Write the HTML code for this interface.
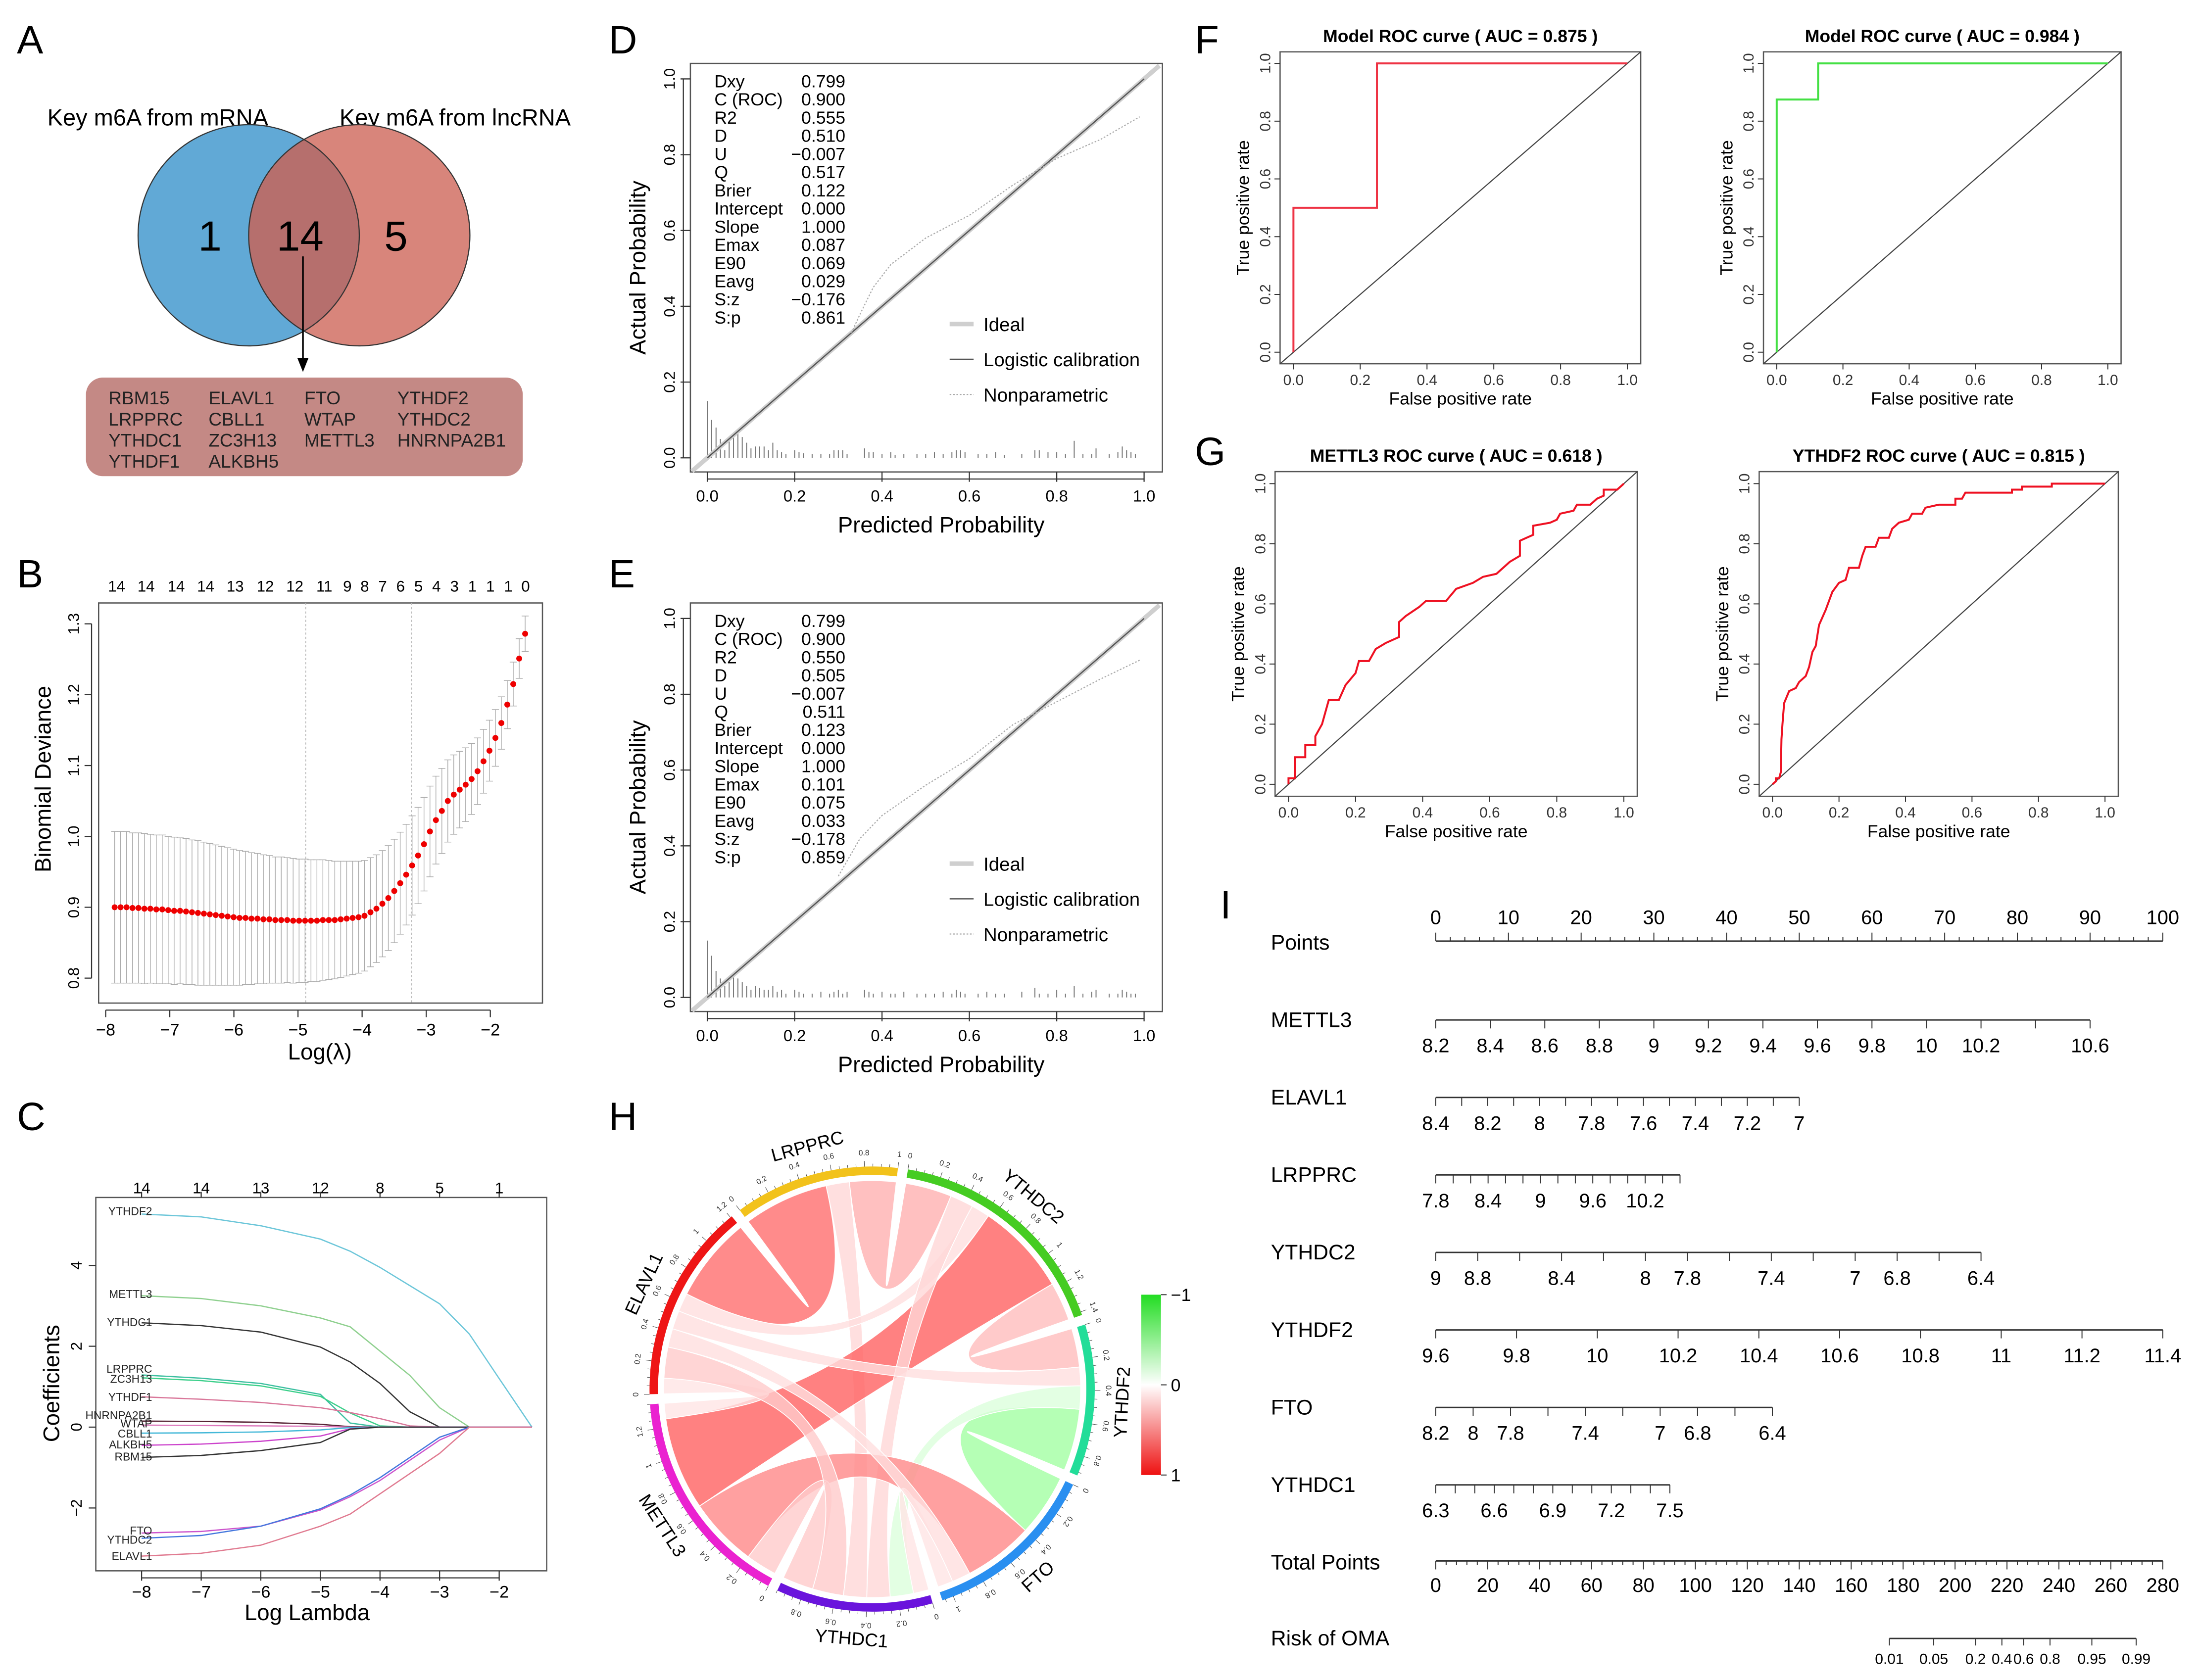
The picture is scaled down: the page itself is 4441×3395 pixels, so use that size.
<!DOCTYPE html>
<html><head><meta charset="utf-8"><style>
html,body{margin:0;padding:0;background:#fff;}
svg{display:block;font-family:"Liberation Sans",Arial,sans-serif;}
</style></head><body>
<svg id="fig" xmlns="http://www.w3.org/2000/svg" width="4441" height="3395" viewBox="0 0 1560 1192.5" preserveAspectRatio="none">
<rect x="0" y="0" width="1560" height="1192.5" fill="#fff"/>
<g font-size="28" fill="#000">
<text x="12" y="38">A</text>
<text x="12" y="417">B</text>
<text x="12" y="802">C</text>
<text x="432" y="38">D</text>
<text x="432" y="417">E</text>
<text x="432" y="802">H</text>
<text x="848" y="38">F</text>
<text x="848" y="330">G</text>
<text x="866" y="652">I</text>
</g>
<!-- Panel A Venn -->
<g>
<defs><clipPath id="blueClip"><circle cx="176.5" cy="167" r="78.5"/></clipPath></defs>
<text x="112" y="89" font-size="16.5" text-anchor="middle">Key m6A from mRNA</text>
<text x="323" y="89" font-size="16.5" text-anchor="middle">Key m6A from lncRNA</text>
<circle cx="176.5" cy="167" r="78.5" fill="#61a9d6"/>
<circle cx="255" cy="167" r="78.5" fill="#d8857b"/>
<circle cx="255" cy="167" r="78.5" fill="#b66f6d" clip-path="url(#blueClip)"/>
<circle cx="176.5" cy="167" r="78.5" fill="none" stroke="#333" stroke-width="0.8"/>
<circle cx="255" cy="167" r="78.5" fill="none" stroke="#333" stroke-width="0.8"/>
<text x="149" y="178" font-size="30" text-anchor="middle">1</text>
<text x="213" y="178" font-size="30" text-anchor="middle">14</text>
<text x="281" y="178" font-size="30" text-anchor="middle">5</text>
<line x1="215" y1="182" x2="215" y2="258" stroke="#000" stroke-width="1.2"/>
<path d="M211,254 L215,264 L219,254 Z" fill="#000"/>
<rect x="61" y="268" width="310" height="70" rx="12" fill="#c48985"/>
<g font-size="13" fill="#222">
<text x="77" y="287">RBM15</text>
<text x="77" y="302">LRPPRC</text>
<text x="77" y="317">YTHDC1</text>
<text x="77" y="332">YTHDF1</text>
<text x="148" y="287">ELAVL1</text>
<text x="148" y="302">CBLL1</text>
<text x="148" y="317">ZC3H13</text>
<text x="148" y="332">ALKBH5</text>
<text x="216" y="287">FTO</text>
<text x="216" y="302">WTAP</text>
<text x="216" y="317">METTL3</text>
<text x="282" y="287">YTHDF2</text>
<text x="282" y="302">YTHDC2</text>
<text x="282" y="317">HNRNPA2B1</text>
</g>
</g>
<g id="gB"></g>
<g id="gC"></g>
<g id="gD"></g>
<g id="gE"></g>
<g id="gF"></g>
<g id="gG"></g>
<g id="gH"></g>
<g id="gI"></g>
</svg>
<script>
// ---------- DATA ----------
// Panel B
const bLamStart = -7.86;
const bLamStep = 0.0928;
const bMean = [0.900,0.900,0.900,0.899,0.899,0.898,0.898,0.897,0.897,0.896,
0.895,0.895,0.894,0.893,0.892,0.891,0.890,0.889,0.888,0.887,
0.886,0.885,0.885,0.884,0.884,0.883,0.883,0.882,0.882,0.882,
0.881,0.881,0.881,0.881,0.881,0.882,0.882,0.882,0.883,0.884,
0.885,0.886,0.888,0.893,0.898,0.905,0.913,0.923,0.934,0.946,
0.959,0.973,0.989,1.007,1.023,1.036,1.050,1.059,1.066,1.073,
1.081,1.092,1.106,1.121,1.139,1.160,1.186,1.215,1.251,1.286];
const bSE = [0.107,0.107,0.107,0.106,0.106,0.106,0.105,0.105,0.105,0.104,
0.104,0.103,0.103,0.102,0.102,0.101,0.100,0.099,0.098,0.097,
0.096,0.095,0.094,0.093,0.092,0.091,0.090,0.089,0.089,0.088,
0.088,0.087,0.087,0.086,0.086,0.085,0.084,0.083,0.082,0.081,
0.080,0.079,0.078,0.077,0.076,0.075,0.074,0.073,0.072,0.071,
0.070,0.068,0.066,0.064,0.062,0.060,0.058,0.056,0.054,0.052,
0.050,0.047,0.045,0.043,0.040,0.037,0.034,0.031,0.028,0.025];
const bTopLam = [-7.83,-7.37,-6.90,-6.44,-5.98,-5.51,-5.05,-4.59,-4.23,-3.96,-3.68,-3.40,-3.12,-2.84,-2.56,-2.28,-2.00,-1.72,-1.45];
const bTopCount = ["14","14","14","14","13","12","12","11","9","8","7","6","5","4","3","1","1","1","0"];
const bVLines = [-4.88,-3.23];
const bXTicks = [-8,-7,-6,-5,-4,-3,-2];
const bYTicks = [0.8,0.9,1.0,1.1,1.2,1.3];
const bYTickLabels = ["0.8","0.9","1.0","1.1","1.2","1.3"];

// Panel C
const cLams = [-8,-7,-6,-5,-4.5,-4,-3.5,-3,-2.5,-2,-1.45];
const cGenes = ["YTHDF2","METTL3","YTHDC1","LRPPRC","ZC3H13","YTHDF1","HNRNPA2B1","WTAP","CBLL1","ALKBH5","RBM15","FTO","YTHDC2","ELAVL1"];
const cColors = ["#6cc6d9","#8fd08f","#333333","#3cbfa0","#3ccf8a","#d9779a","#552233","#dd77bb","#44b8d8","#cc44cc","#333333","#cc55cc","#4477dd","#e07a90"];
const cCoef = [
 [5.27,5.20,4.98,4.65,4.35,3.95,3.50,3.05,2.30,1.20,0],
 [3.25,3.18,3.00,2.70,2.48,1.88,1.28,0.48,0,0,0],
 [2.58,2.51,2.35,1.98,1.61,1.08,0.38,0,0,0,0],
 [1.29,1.21,1.08,0.81,0.10,0,0,0,0,0,0],
 [1.22,1.15,1.02,0.76,0.35,0.03,0,0,0,0,0],
 [0.75,0.69,0.61,0.48,0.36,0.21,0.03,0,0,0,0],
 [0.15,0.14,0.12,0.07,0.01,0,0,0,0,0,0],
 [0.05,0.04,0.03,0.02,0,0,0,0,0,0,0],
 [-0.15,-0.14,-0.12,-0.07,-0.01,0,0,0,0,0,0],
 [-0.45,-0.42,-0.35,-0.22,-0.04,0,0,0,0,0,0],
 [-0.75,-0.70,-0.58,-0.38,-0.05,0,0,0,0,0,0],
 [-2.62,-2.58,-2.45,-2.05,-1.72,-1.32,-0.82,-0.32,0,0,0],
 [-2.75,-2.68,-2.45,-2.02,-1.68,-1.25,-0.75,-0.25,0,0,0],
 [-3.19,-3.12,-2.92,-2.45,-2.15,-1.65,-1.15,-0.65,0,0,0]];
const cLabelY = [5.35,3.3,2.6,1.45,1.2,0.75,0.3,0.1,-0.15,-0.42,-0.72,-2.55,-2.78,-3.18];
const cXTicks = [-8,-7,-6,-5,-4,-3,-2];
const cYTicks = [-2,0,2,4];
const cTopLam = [-8,-7,-6,-5,-4,-3,-2];
const cTopCount = ["14","14","13","12","8","5","1"];

// Panels D / E
const dStatNames = ["Dxy","C (ROC)","R2","D","U","Q","Brier","Intercept","Slope","Emax","E90","Eavg","S:z","S:p"];
const dStatValues = ["0.799","0.900","0.555","0.510","\u22120.007","0.517","0.122","0.000","1.000","0.087","0.069","0.029","\u22120.176","0.861"];
const eStatValues = ["0.799","0.900","0.550","0.505","\u22120.007","0.511","0.123","0.000","1.000","0.101","0.075","0.033","\u22120.178","0.859"];
const dHistX = [0.00,0.01,0.02,0.03,0.04,0.05,0.06,0.07,0.08,0.09,0.10,0.11,0.12,0.13,0.14,0.15,0.16,0.17,0.18,0.20,0.21,0.22,0.24,0.26,0.28,0.29,0.30,0.31,0.32,0.36,0.37,0.38,0.40,0.42,0.43,0.45,0.48,0.50,0.52,0.54,0.56,0.57,0.58,0.59,0.62,0.64,0.66,0.68,0.72,0.75,0.76,0.78,0.80,0.82,0.84,0.86,0.88,0.89,0.92,0.94,0.95,0.96,0.97,0.98];
const dHistH = [0.15,0.10,0.08,0.05,0.02,0.05,0.06,0.07,0.055,0.04,0.025,0.03,0.03,0.03,0.02,0.04,0.02,0.015,0.01,0.02,0.015,0.012,0.01,0.01,0.01,0.02,0.02,0.02,0.01,0.025,0.015,0.015,0.01,0.015,0.008,0.01,0.01,0.01,0.015,0.01,0.015,0.02,0.02,0.015,0.01,0.01,0.015,0.008,0.01,0.02,0.02,0.015,0.015,0.01,0.045,0.01,0.01,0.025,0.01,0.015,0.03,0.02,0.015,0.01];
const eHistH = [0.15,0.11,0.07,0.05,0.03,0.04,0.06,0.05,0.04,0.03,0.02,0.03,0.025,0.02,0.02,0.03,0.015,0.02,0.01,0.02,0.015,0.01,0.01,0.015,0.01,0.015,0.02,0.01,0.015,0.02,0.015,0.01,0.015,0.01,0.01,0.015,0.01,0.01,0.01,0.015,0.01,0.02,0.015,0.01,0.01,0.015,0.01,0.01,0.015,0.025,0.01,0.01,0.02,0.01,0.03,0.01,0.015,0.02,0.01,0.01,0.02,0.015,0.01,0.01];
const dNpX = [0.33,0.35,0.38,0.42,0.50,0.60,0.70,0.80,0.90,0.99];
const dNpY = [0.33,0.38,0.45,0.51,0.58,0.64,0.72,0.79,0.84,0.90];
const eNpX = [0.30,0.35,0.40,0.50,0.60,0.70,0.80,0.90,0.99];
const eNpY = [0.32,0.42,0.48,0.56,0.63,0.72,0.78,0.84,0.89];
const calTicks = [0,0.2,0.4,0.6,0.8,1.0];
const calTickLabels = ["0.0","0.2","0.4","0.6","0.8","1.0"];

// Panels F / G (ROC)
const rocTitles = ["Model ROC curve ( AUC =  0.875 )","Model ROC curve ( AUC =  0.984 )","METTL3 ROC curve ( AUC =  0.618 )","YTHDF2 ROC curve ( AUC =  0.815 )"];
const rocF1x = [0,0,0.25,0.25,1];
const rocF1y = [0,0.5,0.5,1,1];
const rocF2x = [0,0,0.125,0.125,1];
const rocF2y = [0,0.875,0.875,1,1];
const rocG1x = [0,0,0.02,0.02,0.05,0.05,0.08,0.08,0.10,0.12,0.15,0.17,0.20,0.21,0.24,0.26,0.29,0.33,0.33,0.35,0.39,0.41,0.47,0.50,0.55,0.58,0.62,0.64,0.66,0.69,0.69,0.71,0.73,0.73,0.78,0.80,0.81,0.85,0.86,0.90,0.92,0.94,0.94,0.98,1];
const rocG1y = [0,0.02,0.02,0.09,0.09,0.13,0.13,0.16,0.20,0.28,0.28,0.33,0.37,0.41,0.41,0.45,0.47,0.49,0.54,0.56,0.59,0.61,0.61,0.65,0.67,0.69,0.70,0.72,0.74,0.76,0.81,0.82,0.83,0.86,0.87,0.88,0.90,0.91,0.93,0.93,0.95,0.96,0.98,0.98,1];
const rocG2x = [0,0.01,0.01,0.02,0.025,0.027,0.03,0.035,0.05,0.07,0.08,0.10,0.11,0.12,0.13,0.14,0.16,0.18,0.20,0.22,0.23,0.26,0.27,0.28,0.31,0.32,0.35,0.36,0.38,0.41,0.42,0.45,0.46,0.50,0.55,0.55,0.57,0.58,0.72,0.72,0.75,0.75,0.84,0.84,1];
const rocG2y = [0,0.01,0.02,0.02,0.04,0.15,0.20,0.27,0.31,0.32,0.34,0.36,0.39,0.44,0.46,0.53,0.58,0.64,0.67,0.68,0.72,0.72,0.76,0.79,0.79,0.82,0.82,0.85,0.87,0.88,0.90,0.90,0.92,0.93,0.93,0.95,0.95,0.97,0.97,0.98,0.98,0.99,0.99,1,1];
const rocTicks = [0,0.2,0.4,0.6,0.8,1.0];
const rocTickLabels = ["0.0","0.2","0.4","0.6","0.8","1.0"];

// Panel H (chord)
const hSegNames = ["LRPPRC","YTHDC2","YTHDF2","FTO","YTHDC1","METTL3","ELAVL1"];
const hSegColors = ["#f2c21b","#45cc22","#22dd99","#2a8ff0","#6a14dc","#ea22d0","#ee1515"];
const hChordA = ["ELAVL1","LRPPRC","LRPPRC","ELAVL1","YTHDC2","YTHDC2","YTHDC2","YTHDF2","YTHDF2","YTHDF2","FTO","FTO","METTL3","ELAVL1","METTL3","YTHDC1"];
const hChordB = ["LRPPRC","YTHDC2","YTHDC1","YTHDC2","METTL3","YTHDC1","YTHDF2","ELAVL1","FTO","YTHDC1","METTL3","YTHDC1","ELAVL1","FTO","YTHDC1","ELAVL1"];
const hChordCorr = [0.55,0.30,0.15,0.12,0.60,0.15,0.25,0.12,-0.40,-0.15,0.45,0.10,0.10,0.12,0.20,0.20];
const hSegOrder = [[0,2,1],[1,5,3,4,6],[6,7,9,8],[8,10,13,11],[11,9,5,2,15,14],[14,10,4,12],[12,15,13,7,3,0]];

// Panel I (nomogram)
const nomVars = ["METTL3","ELAVL1","LRPPRC","YTHDC2","YTHDF2","FTO","YTHDC1"];
const nomV0 = [8.2,8.4,7.8,9.0,9.6,8.2,6.3];
const nomV1 = [10.6,7.0,10.6,6.4,11.4,6.4,7.5];
const nomP1 = [90,50,33.6,75,100,46.3,32.2];
const nomStep = [0.2,0.1,0.2,0.2,0.2,0.2,0.1];
const nomLabels = [["8.2","8.4","8.6","8.8","9","9.2","9.4","9.6","9.8","10","10.2","10.6"],
 ["8.4","8.2","8","7.8","7.6","7.4","7.2","7"],
 ["7.8","8.4","9","9.6","10.2"],
 ["9","8.8","8.4","8","7.8","7.4","7","6.8","6.4"],
 ["9.6","9.8","10","10.2","10.4","10.6","10.8","11","11.2","11.4"],
 ["8.2","8","7.8","7.4","7","6.8","6.4"],
 ["6.3","6.6","6.9","7.2","7.5"]];
const totalMax = 280;
const totalLabels = [0,20,40,60,80,100,120,140,160,180,200,220,240,260,280];
const riskTicks = [0.01,0.05,0.2,0.4,0.6,0.8,0.95,0.99];
const riskLabels = ["0.01","0.05","0.2","0.4","0.6","0.8","0.95","0.99"];
const riskIntercept = -21.49;
const riskSlope = 0.0967;

// ---------- HELPERS ----------
const NS = "http://www.w3.org/2000/svg";
function mk(parent, tag, attrs, name) {
  const el = document.createElementNS(NS, tag);
  for (const k in attrs) el.setAttribute(k, attrs[k]);
  
  
  parent.appendChild(el);
  return el;
}
function tx(parent, x, y, s, attrs, name) {
  const a = Object.assign({x: x, y: y}, attrs || {});
  const el = mk(parent, "text", a, name);
  el.textContent = s;
  return el;
}
function vtext(parent, x, y, s, size, name, extra) {
  const a = Object.assign({"font-size": size, "text-anchor": "middle", transform: "rotate(-90 " + x + " " + y + ")"}, extra || {});
  return tx(parent, x, y, s, a, name);
}
function pathFrom(xs, ys) { return xs.map((v, i) => (i ? "L" : "M") + v.toFixed(2) + "," + ys[i].toFixed(2)).join(" "); }

// ---------- PANEL B ----------
(function(){
  const g = document.getElementById("gB");
  const X = l => 75 + (l + 8) * 45.5;
  const Y = v => 644 - (v - 0.9) * 503;
  mk(g, "rect", {x: 70, y: 428, width: 315, height: 284, fill: "none", stroke: "#555", "stroke-width": 0.9}, "plot-frame");
  bVLines.forEach(l => mk(g, "line", {x1: X(l), y1: 428, x2: X(l), y2: 712, stroke: "#bbb", "stroke-width": 0.6, "stroke-dasharray": "1.5,1.5"}, "lambda-reference-line"));
  bMean.forEach((m, i) => {
    const x = X(bLamStart + i * bLamStep);
    const up = Y(m + bSE[i]), lo = Y(m - bSE[i]);
    mk(g, "line", {x1: x, y1: up, x2: x, y2: lo, stroke: "#aaa", "stroke-width": 0.5}, "error-bar");
    mk(g, "line", {x1: x - 2.5, y1: up, x2: x + 2.5, y2: up, stroke: "#aaa", "stroke-width": 0.5}, "error-cap-upper");
    mk(g, "line", {x1: x - 2.5, y1: lo, x2: x + 2.5, y2: lo, stroke: "#aaa", "stroke-width": 0.5}, "error-cap-lower");
  });
  bMean.forEach((m, i) => {
    mk(g, "circle", {cx: X(bLamStart + i * bLamStep), cy: Y(m), r: 2.1, fill: "#ee0000"}, "deviance-point");
  });
  mk(g, "line", {x1: X(-8), y1: 717, x2: X(-2), y2: 717, stroke: "#333", "stroke-width": 0.8}, "x-axis-line");
  bXTicks.forEach(t => {
    mk(g, "line", {x1: X(t), y1: 717, x2: X(t), y2: 722, stroke: "#333", "stroke-width": 0.8}, "x-tick");
    tx(g, X(t), 735, t < 0 ? "\u2212" + (-t) : String(t), {"font-size": 12, "text-anchor": "middle"}, "x-tick-label");
  });
  mk(g, "line", {x1: 65, y1: Y(0.8), x2: 65, y2: Y(1.3), stroke: "#333", "stroke-width": 0.8}, "y-axis-line");
  bYTicks.forEach((t, i) => {
    mk(g, "line", {x1: 60, y1: Y(t), x2: 65, y2: Y(t), stroke: "#333", "stroke-width": 0.8}, "y-tick");
    vtext(g, 56, Y(t), bYTickLabels[i], 11, "y-tick-label");
  });
  bTopLam.forEach((l, i) => tx(g, X(l), 420, bTopCount[i], {"font-size": 11, "text-anchor": "middle"}, "top-count-label"));
  vtext(g, 36, 553, "Binomial Deviance", 16, "y-axis-title");
  tx(g, 227, 752, "Log(\u03bb)", {"font-size": 16, "text-anchor": "middle"}, "x-axis-title");
})();

// ---------- PANEL C ----------
(function(){
  const g = document.getElementById("gC");
  const X = l => 100.5 + (l + 8) * 42.3;
  const Y = c => 1013 - c * 28.7;
  mk(g, "rect", {x: 68, y: 850, width: 320, height: 265, fill: "none", stroke: "#555", "stroke-width": 0.9}, "plot-frame");
  cGenes.forEach((name, gi) => {
    const xs = cLams.map(X), ys = cCoef[gi].map(Y);
    mk(g, "path", {d: pathFrom(xs, ys), fill: "none", stroke: cColors[gi], "stroke-width": 0.9}, "coef-path-" + name.toLowerCase());
    tx(g, 108, Y(cLabelY[gi]) + 3, name, {"font-size": 8, "text-anchor": "end", fill: "#222"}, "coef-label-" + name.toLowerCase());
  });
  mk(g, "line", {x1: X(-8), y1: 1120, x2: X(-2), y2: 1120, stroke: "#333", "stroke-width": 0.8}, "x-axis-line");
  cXTicks.forEach(t => {
    mk(g, "line", {x1: X(t), y1: 1115, x2: X(t), y2: 1122, stroke: "#333", "stroke-width": 0.8}, "x-tick");
    tx(g, X(t), 1134, "\u2212" + (-t), {"font-size": 12, "text-anchor": "middle"}, "x-tick-label");
  });
  cYTicks.forEach(t => {
    mk(g, "line", {x1: 63, y1: Y(t), x2: 68, y2: Y(t), stroke: "#333", "stroke-width": 0.8}, "y-tick");
    vtext(g, 58, Y(t), t < 0 ? "\u2212" + (-t) : String(t), 11, "y-tick-label");
  });
  cTopLam.forEach((l, i) => {
    mk(g, "line", {x1: X(l), y1: 850, x2: X(l), y2: 846, stroke: "#333", "stroke-width": 0.8}, "top-tick");
    tx(g, X(l), 847, cTopCount[i], {"font-size": 11, "text-anchor": "middle"}, "top-count-label");
  });
  vtext(g, 42, 982, "Coefficients", 16, "y-axis-title");
  tx(g, 218, 1150, "Log Lambda", {"font-size": 16, "text-anchor": "middle"}, "x-axis-title");
})();

// ---------- PANELS D / E ----------
function drawCal(g, dy, vals, hx, hh, npx, npy) {
  const X = p => 502 + p * 310;
  const Y = p => 325 + dy - p * 269;
  mk(g, "rect", {x: 490, y: 45 + dy, width: 335, height: 290, fill: "none", stroke: "#555", "stroke-width": 0.9}, "plot-frame");
  hx.forEach((p, i) => mk(g, "line", {x1: X(p), y1: Y(0), x2: X(p), y2: Y(hh[i]), stroke: "#777", "stroke-width": 0.7}, "histogram-bar"));
  mk(g, "line", {x1: X(-0.035), y1: Y(-0.035), x2: X(1.035), y2: Y(1.035), stroke: "#cfcfcf", "stroke-width": 3.2}, "ideal-line");
  mk(g, "line", {x1: X(0), y1: Y(0), x2: X(1), y2: Y(1), stroke: "#555", "stroke-width": 0.9}, "logistic-calibration-line");
  mk(g, "path", {d: pathFrom(npx.map(X), npy.map(Y)), fill: "none", stroke: "#aaa", "stroke-width": 0.8, "stroke-dasharray": "1.2,1.2"}, "nonparametric-line");
  dStatNames.forEach((n, i) => {
    tx(g, 507, 62 + dy + i * 12.9, n, {"font-size": 12.5}, "stat-name");
    tx(g, 600, 62 + dy + i * 12.9, vals[i], {"font-size": 12.5, "text-anchor": "end"}, "stat-value");
  });
  mk(g, "line", {x1: 674, y1: 230 + dy, x2: 691, y2: 230 + dy, stroke: "#cfcfcf", "stroke-width": 3.2}, "legend-ideal-swatch");
  mk(g, "line", {x1: 674, y1: 255 + dy, x2: 691, y2: 255 + dy, stroke: "#555", "stroke-width": 0.9}, "legend-logistic-swatch");
  mk(g, "line", {x1: 674, y1: 280 + dy, x2: 691, y2: 280 + dy, stroke: "#aaa", "stroke-width": 0.8, "stroke-dasharray": "1.2,1.2"}, "legend-nonparametric-swatch");
  tx(g, 698, 235 + dy, "Ideal", {"font-size": 13.5}, "legend-ideal");
  tx(g, 698, 260 + dy, "Logistic calibration", {"font-size": 13.5}, "legend-logistic");
  tx(g, 698, 285 + dy, "Nonparametric", {"font-size": 13.5}, "legend-nonparametric");
  mk(g, "line", {x1: X(0), y1: 340 + dy, x2: X(1), y2: 340 + dy, stroke: "#333", "stroke-width": 0.8}, "x-axis-line");
  mk(g, "line", {x1: 485, y1: Y(0), x2: 485, y2: Y(1), stroke: "#333", "stroke-width": 0.8}, "y-axis-line");
  calTicks.forEach((t, i) => {
    mk(g, "line", {x1: X(t), y1: 335 + dy, x2: X(t), y2: 342 + dy, stroke: "#333", "stroke-width": 0.8}, "x-tick");
    tx(g, X(t), 356 + dy, calTickLabels[i], {"font-size": 11.5, "text-anchor": "middle"}, "x-tick-label");
    mk(g, "line", {x1: 483, y1: Y(t), x2: 490, y2: Y(t), stroke: "#333", "stroke-width": 0.8}, "y-tick");
    vtext(g, 479, Y(t), calTickLabels[i], 11, "y-tick-label");
  });
  vtext(g, 458, 190 + dy, "Actual Probability", 16, "y-axis-title");
  tx(g, 668, 378 + dy, "Predicted Probability", {"font-size": 16, "text-anchor": "middle"}, "x-axis-title");
}
drawCal(document.getElementById("gD"), 0, dStatValues, dHistX, dHistH, dNpX, dNpY);
drawCal(document.getElementById("gE"), 383, eStatValues, dHistX, eHistH, eNpX, eNpY);

// ---------- PANELS F / G ----------
function drawRoc(g, x0, x1, y0, y1, title, xs, ys, color) {
  const X = p => x0 + p * (x1 - x0);
  const Y = p => y0 + p * (y1 - y0);
  const fl = X(-0.04), fr = X(1.04), ft = Y(1.04), fb = Y(-0.04);
  mk(g, "rect", {x: fl, y: ft, width: fr - fl, height: fb - ft, fill: "none", stroke: "#555", "stroke-width": 0.9}, "plot-frame");
  mk(g, "line", {x1: fl, y1: fb, x2: fr, y2: ft, stroke: "#444", "stroke-width": 0.8}, "diagonal-reference");
  mk(g, "path", {d: pathFrom(xs.map(X), ys.map(Y)), fill: "none", stroke: color, "stroke-width": 1.4}, "roc-curve");
  tx(g, (fl + fr) / 2, ft - 7, title, {"font-size": 12.5, "font-weight": "bold", "text-anchor": "middle"}, "roc-title");
  rocTicks.forEach((t, i) => {
    mk(g, "line", {x1: X(t), y1: fb, x2: X(t), y2: fb + 4, stroke: "#333", "stroke-width": 0.7}, "x-tick");
    tx(g, X(t), fb + 15, rocTickLabels[i], {"font-size": 10.5, "text-anchor": "middle", fill: "#333"}, "x-tick-label");
    mk(g, "line", {x1: fl - 4, y1: Y(t), x2: fl, y2: Y(t), stroke: "#333", "stroke-width": 0.7}, "y-tick");
    vtext(g, fl - 7, Y(t), rocTickLabels[i], 10.5, "y-tick-label", {fill: "#333"});
  });
  tx(g, (fl + fr) / 2, fb + 29, "False positive rate", {"font-size": 12.5, "text-anchor": "middle"}, "x-axis-title");
  vtext(g, fl - 22, (ft + fb) / 2, "True positive rate", 12.5, "y-axis-title");
}
drawRoc(document.getElementById("gF"), 918, 1155, 250, 45, rocTitles[0], rocF1x, rocF1y, "#ee3344");
drawRoc(document.getElementById("gF"), 1261, 1496, 250, 45, rocTitles[1], rocF2x, rocF2y, "#44e044");
drawRoc(document.getElementById("gG"), 914.5, 1152.5, 556.7, 343.3, rocTitles[2], rocG1x, rocG1y, "#ee1122");
drawRoc(document.getElementById("gG"), 1258, 1494, 556.7, 343.3, rocTitles[3], rocG2x, rocG2y, "#ee1122");

// ---------- PANEL H ----------
(function(){
  const g = document.getElementById("gH");
  const cx = 619, cy = 986, R = 148;
  const gap = 2.6, startAng = -36.5;
  const segTotals = hSegOrder.map(list => list.reduce((s, ci) => s + Math.abs(hChordCorr[ci]), 0));
  const total = segTotals.reduce((a, b) => a + b, 0);
  const k = (360 - gap * hSegNames.length) / total;
  const P = (a, r) => [cx + r * Math.sin(a * Math.PI / 180), cy - r * Math.cos(a * Math.PI / 180)];
  const ends = {};
  let cur = startAng;
  const segRange = [];
  hSegOrder.forEach((list, si) => {
    const s0 = cur;
    list.forEach(ci => {
      const w = Math.abs(hChordCorr[ci]) * k;
      const key = ci + "_" + hSegNames[si];
      ends[key] = [cur, cur + w];
      cur += w;
    });
    segRange.push([s0, cur]);
    cur += gap;
  });
  function colorFor(v) {
    const t = Math.min(1, Math.abs(v) / 0.6);
    if (v >= 0) { const c = Math.round(255 * (1 - 0.62 * t)); return "rgb(255," + c + "," + c + ")"; }
    const c = Math.round(255 * (1 - 0.55 * t)); return "rgb(" + c + ",255," + c + ")";
  }
  hChordCorr.forEach((v, ci) => {
    const a = ends[ci + "_" + hChordA[ci]], b = ends[ci + "_" + hChordB[ci]];
    const pa1 = P(a[0], R), pa2 = P(a[1], R), pb1 = P(b[0], R), pb2 = P(b[1], R);
    const d = "M" + pa1 + " A" + R + "," + R + " 0 0 1 " + pa2 + " Q" + cx + "," + cy + " " + pb1 +
              " A" + R + "," + R + " 0 0 1 " + pb2 + " Q" + cx + "," + cy + " " + pa1 + " Z";
    mk(g, "path", {d: d, fill: colorFor(v), "fill-opacity": 0.8, stroke: "#fff", "stroke-width": 0.6}, "chord-" + hChordA[ci].toLowerCase() + "-" + hChordB[ci].toLowerCase());
  });
  segRange.forEach((r, si) => {
    const a0 = r[0], a1 = r[1];
    const o1 = P(a0, 158), o2 = P(a1, 158), i1 = P(a1, 152), i2 = P(a0, 152);
    const large = (a1 - a0) > 180 ? 1 : 0;
    mk(g, "path", {d: "M" + o1 + " A158,158 0 " + large + " 1 " + o2 + " L" + i1 + " A152,152 0 " + large + " 0 " + i2 + " Z", fill: hSegColors[si]}, "sector-" + hSegNames[si].toLowerCase());
    const units = segTotals[si];
    for (let u = 0; u <= units + 1e-6; u += 0.05) {
      const a = a0 + u * k;
      const major = Math.abs(u / 0.2 - Math.round(u / 0.2)) < 1e-3;
      const p1 = P(a, 158), p2 = P(a, major ? 162 : 160);
      mk(g, "line", {x1: p1[0], y1: p1[1], x2: p2[0], y2: p2[1], stroke: "#444", "stroke-width": 0.35}, "sector-tick");
      if (major) {
        const pl = P(a, 166);
        let rot = a; if (rot > 180) rot -= 360;
        tx(g, pl[0], pl[1], (Math.round(u * 10) / 10).toString(), {"font-size": 5.5, "text-anchor": "middle", fill: "#333", transform: "rotate(" + rot + " " + pl[0] + " " + pl[1] + ")"}, "sector-tick-label");
      }
    }
    const mid = (a0 + a1) / 2;
    const pl = P(mid, 178);
    let rot = ((mid % 360) + 360) % 360; if (rot > 180) rot -= 360;
    if (rot > 90) rot -= 180; else if (rot < -90) rot += 180;
    tx(g, pl[0], pl[1] + 4, hSegNames[si], {"font-size": 13, "text-anchor": "middle", transform: "rotate(" + rot + " " + pl[0] + " " + (pl[1]) + ")"}, "sector-label-" + hSegNames[si].toLowerCase());
  });
  // legend
  const defs = mk(g, "defs", {}, "legend-defs");
  const lg = mk(defs, "linearGradient", {id: "corrGrad", x1: 0, y1: 0, x2: 0, y2: 1}, "legend-gradient");
  mk(lg, "stop", {offset: "0", "stop-color": "#22dd22"}, "gradient-stop-green");
  mk(lg, "stop", {offset: "0.5", "stop-color": "#ffffff"}, "gradient-stop-white");
  mk(lg, "stop", {offset: "1", "stop-color": "#ee1111"}, "gradient-stop-red");
  mk(g, "rect", {x: 810, y: 919, width: 14, height: 128, fill: "url(#corrGrad)"}, "color-legend-bar");
  [[-1, 919], [0, 983], [1, 1047]].forEach(t => {
    mk(g, "line", {x1: 824, y1: t[1], x2: 828, y2: t[1], stroke: "#333", "stroke-width": 0.7}, "legend-tick");
    tx(g, 831, t[1] + 4.5, t[0] < 0 ? "\u22121" : String(t[0]), {"font-size": 12.5}, "legend-tick-label");
  });
})();

// ---------- PANEL I ----------
(function(){
  const g = document.getElementById("gI");
  const PX = p => 1019 + p * 5.16;
  const rowY = [724, 779, 834, 889, 944, 999, 1054];
  // points axis
  tx(g, 902, 674, "Points", {"font-size": 15}, "row-label-points");
  mk(g, "line", {x1: PX(0), y1: 668, x2: PX(100), y2: 668, stroke: "#333", "stroke-width": 1}, "points-axis");
  for (let p = 0; p <= 100; p += 2) {
    const major = p % 10 === 0;
    mk(g, "line", {x1: PX(p), y1: 668, x2: PX(p), y2: major ? 662 : 665, stroke: "#333", "stroke-width": 0.7}, "points-tick");
    if (major) tx(g, PX(p), 656, String(p), {"font-size": 14, "text-anchor": "middle"}, "points-tick-label");
  }
  nomVars.forEach((name, vi) => {
    const y = rowY[vi];
    const v0 = nomV0[vi], v1 = nomV1[vi], p1 = nomP1[vi];
    const toP = v => (v - v0) / (v1 - v0) * p1;
    tx(g, 902, y + 5, name, {"font-size": 15}, "row-label-" + name.toLowerCase());
    mk(g, "line", {x1: PX(0), y1: y, x2: PX(p1), y2: y, stroke: "#333", "stroke-width": 1}, "axis-" + name.toLowerCase());
    const n = Math.round(Math.abs(v1 - v0) / nomStep[vi]);
    const dir = v1 > v0 ? 1 : -1;
    for (let i = 0; i <= n; i++) {
      const v = v0 + dir * i * nomStep[vi];
      mk(g, "line", {x1: PX(toP(v)), y1: y, x2: PX(toP(v)), y2: y + 6, stroke: "#333", "stroke-width": 0.7}, "axis-tick");
    }
    nomLabels[vi].forEach(s => tx(g, PX(toP(parseFloat(s))), y + 23, s, {"font-size": 14, "text-anchor": "middle"}, "axis-tick-label"));
  });
  // total points
  const TX = t => 1019 + t / totalMax * 516;
  tx(g, 902, 1114, "Total Points", {"font-size": 15}, "row-label-total-points");
  mk(g, "line", {x1: TX(0), y1: 1108, x2: TX(totalMax), y2: 1108, stroke: "#333", "stroke-width": 1}, "total-points-axis");
  for (let t = 0; t <= totalMax; t += 4) {
    const major = t % 20 === 0;
    mk(g, "line", {x1: TX(t), y1: 1108, x2: TX(t), y2: major ? 1114 : 1111, stroke: "#333", "stroke-width": 0.7}, "total-points-tick");
  }
  totalLabels.forEach(t => tx(g, TX(t), 1130, String(t), {"font-size": 14, "text-anchor": "middle"}, "total-points-tick-label"));
  // risk
  const RX = r => TX((Math.log(r / (1 - r)) - riskIntercept) / riskSlope);
  tx(g, 902, 1168, "Risk of OMA", {"font-size": 15}, "row-label-risk");
  mk(g, "line", {x1: RX(riskTicks[0]), y1: 1163, x2: RX(riskTicks[riskTicks.length - 1]), y2: 1163, stroke: "#333", "stroke-width": 1}, "risk-axis");
  riskTicks.forEach((r, i) => {
    mk(g, "line", {x1: RX(r), y1: 1163, x2: RX(r), y2: 1168, stroke: "#333", "stroke-width": 0.7}, "risk-tick");
    tx(g, RX(r), 1181, riskLabels[i], {"font-size": 10.5, "text-anchor": "middle"}, "risk-tick-label");
  });
})();
</script>
</body></html>
